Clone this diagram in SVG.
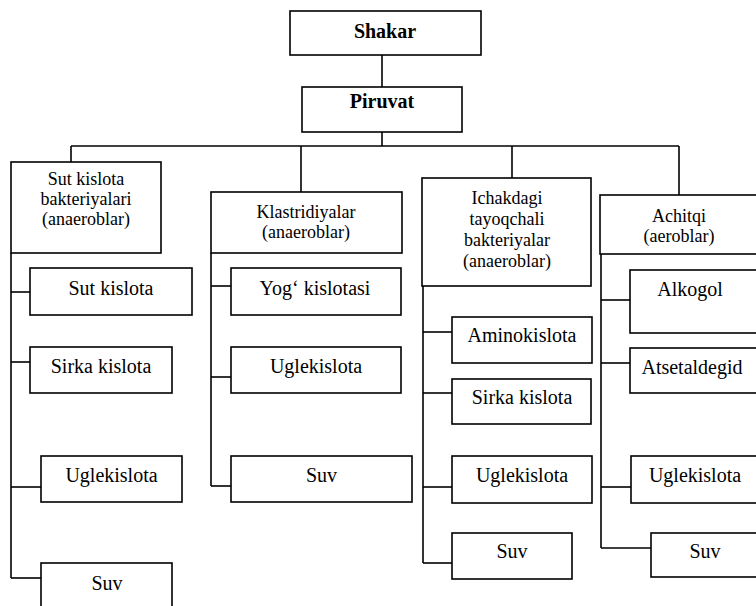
<svg xmlns="http://www.w3.org/2000/svg" width="756" height="606" viewBox="0 0 756 606">
<style>
rect{fill:#fff;stroke:#000;stroke-width:1.6}
.c line{stroke:#000;stroke-width:1.6}
text{font-family:"Liberation Serif","Times New Roman",serif;font-size:20px;fill:#000;text-anchor:middle}
.b{font-weight:bold}
.m{font-size:18px}
</style>
<rect x="0" y="0" width="756" height="606" style="stroke:none"/>
<g class="c" id="connectors">
<line x1="382" y1="55" x2="382" y2="87"/>
<line x1="382" y1="132" x2="382" y2="146"/>
<line x1="71" y1="146" x2="679" y2="146"/>
<line x1="71" y1="146" x2="71" y2="162"/>
<line x1="301" y1="146" x2="301" y2="192"/>
<line x1="512" y1="146" x2="512" y2="178"/>
<line x1="679" y1="146" x2="679" y2="195"/>
<line x1="11" y1="253" x2="11" y2="578"/>
<line x1="11" y1="292" x2="30" y2="292"/>
<line x1="11" y1="362" x2="30" y2="362"/>
<line x1="11" y1="487" x2="41" y2="487"/>
<line x1="11" y1="578" x2="41" y2="578"/>
<line x1="211" y1="253" x2="211" y2="486"/>
<line x1="211" y1="286" x2="231" y2="286"/>
<line x1="211" y1="377" x2="231" y2="377"/>
<line x1="211" y1="486" x2="231" y2="486"/>
<line x1="423" y1="286" x2="423" y2="563"/>
<line x1="423" y1="332" x2="452" y2="332"/>
<line x1="423" y1="393" x2="452" y2="393"/>
<line x1="423" y1="487" x2="452" y2="487"/>
<line x1="423" y1="563" x2="452" y2="563"/>
<line x1="601" y1="254" x2="601" y2="548"/>
<line x1="601" y1="300" x2="630" y2="300"/>
<line x1="601" y1="363" x2="630" y2="363"/>
<line x1="601" y1="487" x2="631" y2="487"/>
<line x1="601" y1="548" x2="651" y2="548"/>
</g>
<g id="shakar"><rect x="290" y="11" width="191" height="44"/><text class="b" x="385" y="38">Shakar</text></g>
<g id="piruvat"><rect x="302" y="87" width="160" height="45"/><text class="b" x="382" y="108">Piruvat</text></g>
<g id="sut-bakteriyalari"><rect x="11" y="162" width="150" height="91"/><text class="m" x="86" y="185">Sut kislota</text><text class="m" x="86" y="205">bakteriyalari</text><text class="m" x="86" y="225">(anaeroblar)</text></g>
<g id="klastridiyalar"><rect x="211" y="192" width="191" height="61"/><text class="m" x="306" y="218">Klastridiyalar</text><text class="m" x="306" y="238">(anaeroblar)</text></g>
<g id="ichakdagi"><rect x="422" y="178" width="169" height="108"/><text class="m" x="507" y="204">Ichakdagi</text><text class="m" x="507" y="225">tayoqchali</text><text class="m" x="507" y="246">bakteriyalar</text><text class="m" x="507" y="267">(anaeroblar)</text></g>
<g id="achitqi"><rect x="600" y="195" width="165" height="59"/><text class="m" x="679" y="222">Achitqi</text><text class="m" x="679" y="242">(aeroblar)</text></g>
<g id="sut-kislota"><rect x="30" y="268" width="162" height="47"/><text x="111" y="295">Sut kislota</text></g>
<g id="sirka-kislota-1"><rect x="30" y="347" width="142" height="46"/><text x="101" y="373">Sirka kislota</text></g>
<g id="uglekislota-1"><rect x="41" y="456" width="141" height="46"/><text x="111.5" y="482">Uglekislota</text></g>
<g id="suv-1"><rect x="41" y="563" width="131" height="55"/><text x="107" y="590">Suv</text></g>
<g id="yog-kislotasi"><rect x="231" y="268" width="170" height="47"/><text x="315" y="295">Yog‘ kislotasi</text></g>
<g id="uglekislota-2"><rect x="231" y="347" width="170" height="46"/><text x="316" y="373">Uglekislota</text></g>
<g id="suv-2"><rect x="231" y="456" width="181" height="46"/><text x="321.5" y="482">Suv</text></g>
<g id="aminokislota"><rect x="452" y="317" width="140" height="46"/><text x="522" y="342">Aminokislota</text></g>
<g id="sirka-kislota-3"><rect x="452" y="379" width="139" height="45"/><text x="522" y="404">Sirka kislota</text></g>
<g id="uglekislota-3"><rect x="452" y="456" width="140" height="47"/><text x="522" y="482">Uglekislota</text></g>
<g id="suv-3"><rect x="452" y="533" width="120" height="46"/><text x="512" y="558">Suv</text></g>
<g id="alkogol"><rect x="630" y="270" width="135" height="63"/><text x="690" y="296">Alkogol</text></g>
<g id="atsetaldegid"><rect x="630" y="348" width="135" height="45"/><text x="692" y="374">Atsetaldegid</text></g>
<g id="uglekislota-4"><rect x="631" y="456" width="134" height="47"/><text x="695" y="482">Uglekislota</text></g>
<g id="suv-4"><rect x="651" y="533" width="114" height="44"/><text x="705" y="558">Suv</text></g>
</svg>
